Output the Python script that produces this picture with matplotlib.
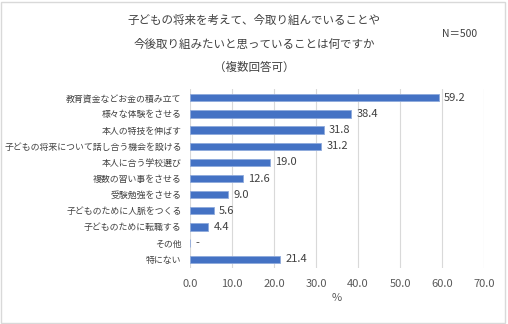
import matplotlib.pyplot as plt
from matplotlib.patches import Rectangle

plt.rcParams['font.family'] = ['Noto Sans CJK JP', 'DejaVu Sans']

# Data
categories = ["教育資金などお金の積み立て", "様々な体験をさせる", "本人の特技を伸ばす",
              "子どもの将来について話し合う機会を設ける", "本人に合う学校選び",
              "複数の習い事をさせる", "受験勉強をさせる", "子どものために人脈をつくる",
              "子どものために転職する", "その他", "特にない"]
values = [59.2, 38.4, 31.8, 31.2, 19.0, 12.6, 9.0, 5.6, 4.4, 0.0, 21.4]
value_labels = ["59.2", "38.4", "31.8", "31.2", "19.0", "12.6", "9.0", "5.6", "4.4", "-", "21.4"]
xticks = [0, 10, 20, 30, 40, 50, 60, 70]

fig = plt.figure(figsize=(5.08, 3.24), dpi=100)
ax = fig.add_axes([190 / 508, 1 - 268 / 324, (484 - 190) / 508, (268 - 89) / 324])

y = list(range(len(categories)))
ax.barh(y, values, height=0.45, color='#4472C4', edgecolor='#8FAADC', linewidth=0.6, zorder=3)
for yi, v, lab in zip(y, values, value_labels):
    ax.text(v + 1.3, yi, lab, va='center', ha='left', fontsize=8, color='#404040')

ax.set_ylim(len(categories) - 0.45, -0.55)
ax.set_xlim(0, 70)
ax.set_yticks(y)
ax.set_yticklabels(categories, fontsize=6.4, color='#404040')
ax.set_xticks(xticks)
ax.set_xticklabels([f"{t:.1f}" for t in xticks], fontsize=8, color='#595959')
ax.tick_params(length=0, pad=6)
ax.tick_params(axis='x', pad=8)
ax.grid(axis='x', color='#D9D9D9', linewidth=0.8, zorder=0)
for s in ax.spines.values():
    s.set_visible(False)
ax.set_xlabel("%", fontsize=8, color='#595959', labelpad=3)

fig.text(0.5, 1 - 20 / 324, "子どもの将来を考えて、今取り組んでいることや", ha='center', va='center', fontsize=8.3, color='#404040')
fig.text(0.5, 1 - 44 / 324, "今後取り組みたいと思っていることは何ですか", ha='center', va='center', fontsize=8.3, color='#404040')
fig.text(0.5, 1 - 67 / 324, "（複数回答可）", ha='center', va='center', fontsize=8.3, color='#404040')
fig.text(460 / 508, 1 - 34 / 324, "N＝500", ha='center', va='center', fontsize=7.5, color='#404040')

fig.patches.append(Rectangle((0.002, 0.004), 0.992, 0.99, transform=fig.transFigure,
                             fill=False, edgecolor='#D9D9D9', linewidth=1))

fig.savefig("out.png", dpi=100)
